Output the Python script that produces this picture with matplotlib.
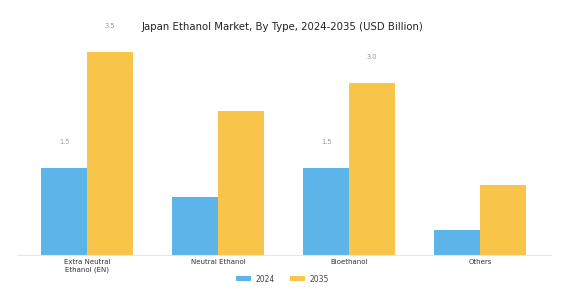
import matplotlib.pyplot as plt
import numpy as np

categories = ['Extra Neutral\nEthanol (EN)', 'Neutral Ethanol', 'Bioethanol', 'Others']
values_2024 = [1.5, 1.0, 1.5, 0.43]
values_2035 = [3.5, 2.48, 2.97, 1.2]
labels_2024 = ['1.5', '', '1.5', '']
labels_2035 = ['3.5', '', '3.0', '']

blue = '#5DB4E8'
yellow = '#F9C44A'

fig = plt.figure(figsize=(5.65, 3.0), dpi=100)
ax = fig.add_axes([17 / 565, 45 / 300, 534 / 565, 235 / 300])

x = np.arange(len(categories))
w = 0.35
ax.bar(x - w / 2, values_2024, w, color=blue, label='2024')
ax.bar(x + w / 2, values_2035, w, color=yellow, label='2035')

for i in range(len(categories)):
    if labels_2024[i]:
        ax.text(x[i] - w / 2, values_2024[i] + 0.45, labels_2024[i], ha='center', va='center',
                fontsize=4.8, color='#999999')
    if labels_2035[i]:
        ax.text(x[i] + w / 2, values_2035[i] + 0.45, labels_2035[i], ha='center', va='center',
                fontsize=4.8, color='#999999')

ax.set_xlim(-0.535, 3.54)
ax.set_ylim(0, 4.05)
ax.set_xticks(x)
ax.set_xticklabels(categories, fontsize=5, color='#333333')
ax.tick_params(axis='x', length=0, pad=3)
ax.set_yticks([])
for s in ['top', 'right', 'left']:
    ax.spines[s].set_visible(False)
ax.spines['bottom'].set_color('#e6e6e6')
ax.spines['bottom'].set_linewidth(0.8)

fig.text(0.5, 1 - 27 / 300, 'Japan Ethanol Market, By Type, 2024-2035 (USD Billion)',
         ha='center', va='center', fontsize=7.3, color='#222222')

fig.legend(loc='center', bbox_to_anchor=(0.5, 1 - 279 / 300), ncol=2, frameon=False,
           fontsize=5.5, handlelength=2.0, handleheight=0.6, handletextpad=0.6,
           columnspacing=2.0, labelcolor='#444444')

fig.savefig('out.png', dpi=100)
